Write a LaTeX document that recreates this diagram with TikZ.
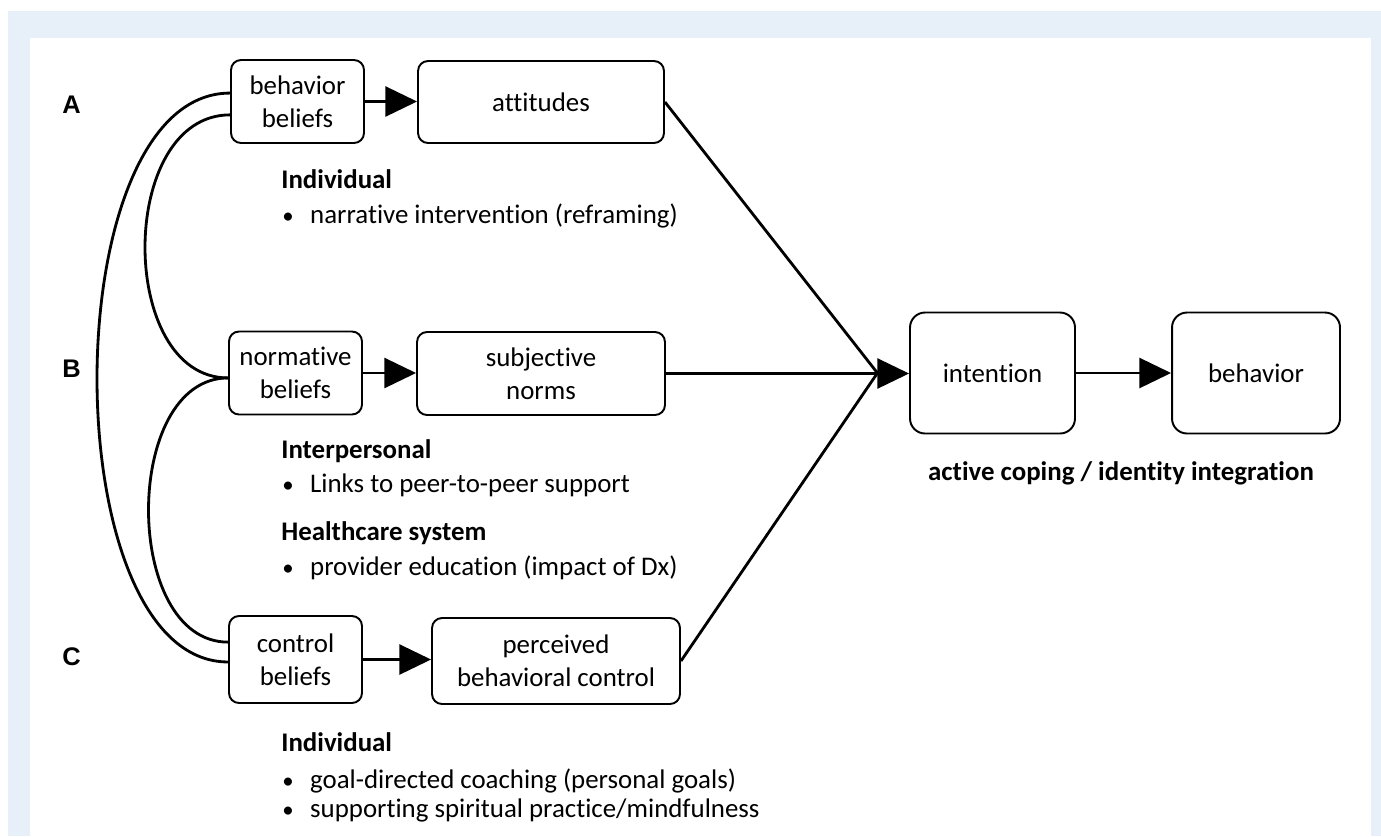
\documentclass[tikz,border=0pt]{standalone}
\usepackage{fontspec}
\setmainfont{Carlito}[Ligatures=NoCommon]
\newfontfamily\labelfont{Liberation Sans}
\usetikzlibrary{arrows.meta,calc}
\definecolor{paneblue}{RGB}{231,239,249}
\newcommand\bul{\makebox[16.4pt][l]{\hspace{0.6pt}\scalebox{0.85}{\textbullet}}}

\begin{document}
\begin{tikzpicture}[x=0.02cm,y=-0.02cm,
        font=\fontsize{15.3}{18.7}\selectfont,
        box/.style={draw,line width=1.1pt,rounded corners=0.2cm,align=center,inner sep=0pt},
        bigbox/.style={box,rounded corners=0.3cm,minimum width=3.3cm,minimum height=2.42cm},
        txt/.style={anchor=base west,inner sep=0pt},
        lbl/.style={font=\labelfont\bfseries\fontsize{14.5}{16}\selectfont,inner sep=0pt},
        link/.style={line width=1.6pt},
        >={Triangle[length=18pt,width=17pt]}]
   \useasboundingbox (0,0) rectangle (1381,836);
   \fill[paneblue] (8,11) rectangle (1381,836);
   \fill[white] (30,38) rectangle (1371,836);
   % beliefs and their constructs
   \node[box,minimum width=2.66cm,minimum height=1.66cm] (bb) at (297.5,101.5) {behavior\\beliefs};
   \node[box,minimum width=4.92cm,minimum height=1.64cm] (att) at (541,102) {attitudes};
   \node[box,minimum width=2.66cm,minimum height=1.66cm] (nb) at (295.5,373) {normative\\beliefs};
   \node[box,minimum width=4.96cm,minimum height=1.66cm] (sn) at (541,373.5) {subjective\\norms};
   \node[box,minimum width=2.66cm,minimum height=1.74cm] (cb) at (295.5,659.5) {control\\beliefs};
   \node[box,minimum width=4.96cm,minimum height=1.72cm] (pbc) at (556,661) {perceived\\behavioral control};
   \node[bigbox] (int) at (992.5,373) {intention};
   \node[bigbox,minimum width=3.36cm] (beh) at (1256,373) {behavior};
   \coordinate (meet) at ([xshift=-18pt]int.west);
   % row labels
   \node[lbl] (A) at (71.5,104.5) {A};
   \node[lbl] (B) at (71.5,369) {B};
   \node[lbl] (C) at (71.5,657) {C};
   % arrows
   \draw[link,->] (bb.east) -- (att.west |- bb.east);
   \draw[link,->] (nb.east) -- (sn.west |- nb.east);
   \draw[link,->] (cb.east) -- (pbc.west |- cb.east);
   \draw[link,->] (sn.east) -- (int.west |- sn.east);
   \draw[link] (att.east) -- (meet);
   \draw[link] (pbc.east) -- (meet);
   \draw[link,->] (int) -- (beh);
   % links between beliefs
   \draw[link] ([yshift=4.8pt]bb.west) .. controls (53,93) and (53,662) .. ([yshift=-1.4pt]cb.west);
   \draw[link] ([yshift=-7.6pt]bb.west) .. controls (117,115) and (117,378) .. ([yshift=-2.8pt]nb.west);
   \draw[link] ([yshift=-2.8pt]nb.west) .. controls (122,378) and (122,642) .. ([yshift=9.9pt]cb.west);
   % interventions
   \node[txt] (indA) at (281,188) {\bfseries Individual};
   \node[txt] (indAa) at (281,223) {\bul narrative intervention (reframing)};
   \node[txt] (inter) at (281,458) {\bfseries Interpersonal};
   \node[txt] (interA) at (281,492) {\bul Links to peer-to-peer support};
   \node[txt] (care) at (281,540) {\bfseries Healthcare system};
   \node[txt] (careA) at (281,575) {\bul provider education (impact of Dx)};
   \node[txt] (indC) at (281,751) {\bfseries Individual};
   \node[txt] (indCa) at (281,788) {\bul goal-directed coaching (personal goals)};
   \node[txt] (indCb) at (281,817) {\bul supporting spiritual practice/mindfulness};
   \node[anchor=base,inner sep=0pt,font=\fontsize{15.3}{18.7}\selectfont\bfseries] (coping) at (1121,480) {active coping / identity integration};
\end{tikzpicture}
\end{document}
